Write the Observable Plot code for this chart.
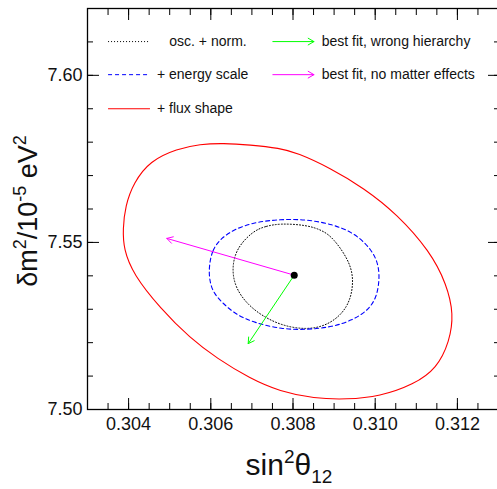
<!DOCTYPE html>
<html><head><meta charset="utf-8">
<script src="https://cdn.jsdelivr.net/npm/d3@7"></script>
<script src="https://cdn.jsdelivr.net/npm/@observablehq/plot@0.6"></script>
<style>body{margin:0;background:#fff}#chart{width:497px;height:489px}</style>
</head><body><div id="chart"></div>
<script>
// contour: + flux shape (red, solid)
const fluxX = [0.30386,0.30392,0.30412,0.30452,0.30518,0.30574,0.30630,0.30695,0.30768,0.30810,0.30890,0.30972,0.31053,0.31133,0.31174,0.31191,0.31181,0.31150,0.31094,0.31011,0.30931,0.30851,0.30768,0.30695,0.30615,0.30550,0.30477,0.30411,0.30388];
const fluxY = [7.5540,7.5609,7.5678,7.5744,7.5780,7.5794,7.5797,7.5792,7.5782,7.5768,7.5723,7.5663,7.5585,7.5474,7.5375,7.5285,7.5204,7.5123,7.5075,7.5039,7.5030,7.5033,7.5054,7.5093,7.5153,7.5213,7.5303,7.5405,7.5480];
// contour: + energy scale (blue, dashed)
const escaleX = [0.30596,0.30603,0.30625,0.30661,0.30710,0.30768,0.30833,0.30897,0.30943,0.30977,0.31002,0.31010,0.31009,0.31002,0.30981,0.30944,0.30896,0.30837,0.30772,0.30705,0.30661,0.30629,0.30604,0.30596];
const escaleY = [7.5429,7.5477,7.5513,7.5542,7.5561,7.5569,7.5569,7.5554,7.5531,7.5498,7.5456,7.5414,7.5375,7.5332,7.5295,7.5267,7.5247,7.5239,7.5240,7.5260,7.5284,7.5318,7.5352,7.5394];
// contour: osc. + norm. (black, dotted)
const oscX = [0.30768,0.30732,0.30703,0.30663,0.30651,0.30659,0.30695,0.30760,0.30833,0.30890,0.30934,0.30948,0.30941,0.30898,0.30870,0.30833];
const oscY = [7.5557,7.5548,7.5534,7.5484,7.5424,7.5364,7.5304,7.5254,7.5237,7.5254,7.5304,7.5374,7.5438,7.5514,7.5537,7.5552];
// best fit
const bestX = [0.30803];
const bestY = [7.5402];
// arrows: best fit, wrong hierarchy / no matter effects
const arrowNames = ["best fit, wrong hierarchy", "best fit, no matter effects"];
const arrowEndX = [0.30691, 0.30493];
const arrowEndY = [7.5197, 7.5512];
const contourNames = ["osc. + norm.", "+ energy scale", "+ flux shape"];
// ticks
const xMajor = [0.304, 0.306, 0.308, 0.310, 0.312];
const xMinor = [0.3030,0.3035,0.3040,0.3045,0.3050,0.3055,0.3060,0.3065,0.3070,0.3075,0.3080,0.3085,0.3090,0.3095,0.3100,0.3105,0.3110,0.3115,0.3120,0.3125,0.3130];
const yMajor = [7.50, 7.55, 7.60];
const yMinor = [7.50,7.51,7.52,7.53,7.54,7.55,7.56,7.57,7.58,7.59,7.60,7.61,7.62];

const pts = (xs, ys) => xs.map((x, i) => ({x, y: ys[i]}));
const flux = pts(fluxX, fluxY), escale = pts(escaleX, escaleY), osc = pts(oscX, oscY);
const arrows = arrowEndX.map((x, i) => ({x1: bestX[0], y1: bestY[0], x2: x, y2: arrowEndY[i], name: arrowNames[i]}));
const arrowColors = ["#00ff00", "#ff00ff"];

// legend placement (data units)
const legL = {x1: 0.3035, x2: 0.30452, ys: [7.6101, 7.6002, 7.5900], tx: [0.30499, 0.30469, 0.30469]};
const legR = {x1: 0.30751, x2: 0.30851, ys: [7.6101, 7.6002], tx: 0.30870};
const contourStyles = [
  {stroke: "black", strokeDasharray: "1,2"},
  {stroke: "#0000ff", strokeDasharray: "4,3"},
  {stroke: "#ff0000"}
];

const noText = () => "";
const chart = Plot.plot({
  width: 497, height: 489,
  marginLeft: 87, marginRight: -1, marginTop: 8, marginBottom: 80,
  style: {fontFamily: "'Liberation Sans', Arial, sans-serif", background: "white"},
  x: {domain: [0.303, 0.313]},
  y: {domain: [7.50, 7.62]},
  marks: [
    Plot.axisX(xMajor, {anchor: "bottom", tickSize: -11, tickFormat: noText, label: null}),
    Plot.axisX(xMinor, {anchor: "bottom", tickSize: -6, tickFormat: noText, label: null}),
    Plot.axisX(xMajor, {anchor: "top", tickSize: -11, tickFormat: noText, label: null}),
    Plot.axisX(xMinor, {anchor: "top", tickSize: -6, tickFormat: noText, label: null}),
    Plot.axisY(yMajor, {anchor: "left", tickSize: -12, tickFormat: noText, label: null}),
    Plot.axisY(yMinor, {anchor: "left", tickSize: -6, tickFormat: noText, label: null}),
    Plot.axisY(yMajor, {anchor: "right", tickSize: -11, tickFormat: noText, label: null}),
    Plot.axisY(yMinor, {anchor: "right", tickSize: -5, tickFormat: noText, label: null}),
    Plot.axisX(xMajor, {anchor: "bottom", tickSize: 0, tickPadding: 8, tickFormat: d3.format(".3f"), fontSize: 18, label: null, fill: "#111"}),
    Plot.axisY(yMajor, {anchor: "left", tickSize: 0, tickPadding: 5, tickFormat: d3.format(".2f"), fontSize: 18, label: null, fill: "#111"}),
    Plot.frame({stroke: "black", strokeWidth: 1.3}),
    Plot.line(osc, {x: "x", y: "y", curve: "basis-closed", strokeWidth: 1, ...contourStyles[0]}),
    Plot.line(escale, {x: "x", y: "y", curve: "basis-closed", strokeWidth: 1.1, ...contourStyles[1]}),
    Plot.line(flux, {x: "x", y: "y", curve: "basis-closed", strokeWidth: 1.1, ...contourStyles[2]}),
    Plot.arrow(arrows, {x1: "x1", y1: "y1", x2: "x2", y2: "y2", stroke: (d, i) => arrowColors[i], headLength: 10, headAngle: 60, strokeWidth: 1}),
    Plot.dot(pts(bestX, bestY), {x: "x", y: "y", r: 3.5, fill: "black"}),
    ...contourNames.map((n, i) => Plot.link([0], {x1: legL.x1, x2: legL.x2, y1: legL.ys[i], y2: legL.ys[i], strokeWidth: 1, ...contourStyles[i]})),
    Plot.text(contourNames, {x: (d, i) => legL.tx[i], y: (d, i) => legL.ys[i], text: d => d, textAnchor: "start", fontSize: 14, fill: "#111"}),
    Plot.arrow(arrowNames, {x1: legR.x1, x2: legR.x2, y1: (d, i) => legR.ys[i], y2: (d, i) => legR.ys[i], stroke: (d, i) => arrowColors[i], headLength: 10, headAngle: 60, strokeWidth: 1}),
    Plot.text(arrowNames, {x: legR.tx, y: (d, i) => legR.ys[i], text: d => d, textAnchor: "start", fontSize: 14, fill: "#111"})
  ]
});
document.getElementById("chart").appendChild(chart);

const svg = d3.select(chart);
const xt = svg.append("text").attr("x", 289).attr("y", 475).attr("text-anchor", "middle")
  .attr("font-size", 30).attr("fill", "#111");
xt.append("tspan").text("sin");
xt.append("tspan").attr("font-size", 19).attr("dy", -12).text("2");
xt.append("tspan").attr("dy", 12).text("θ");
xt.append("tspan").attr("font-size", 19).attr("dy", 8).text("12");

const yt = svg.append("text").attr("transform", "translate(37,211) rotate(-90)").attr("text-anchor", "middle")
  .attr("font-size", 27).attr("fill", "#111");
yt.append("tspan").text("δm");
yt.append("tspan").attr("font-size", 18).attr("dy", -11).text("2");
yt.append("tspan").attr("dy", 11).text("/10");
yt.append("tspan").attr("font-size", 18).attr("dy", -11).text("-5");
yt.append("tspan").attr("dy", 11).text(" eV");
yt.append("tspan").attr("font-size", 18).attr("dy", -11).text("2");
</script>
</body></html>
